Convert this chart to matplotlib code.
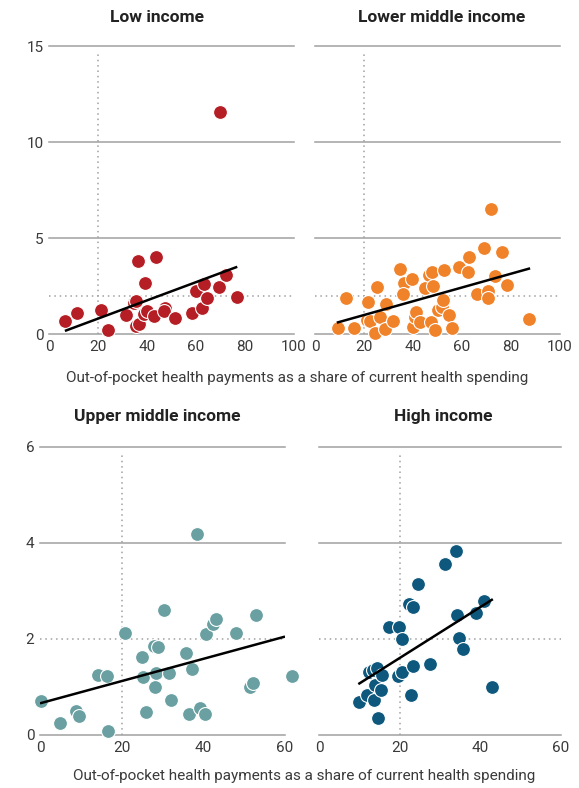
import matplotlib

matplotlib.use("Agg")
import matplotlib.pyplot as plt

plt.rcParams["font.family"] = ["Roboto", "DejaVu Sans"]

# x: out-of-pocket share of current health spending (%), y: outcome value
LOW_X = [6.5, 11.6, 21.1, 24.3, 31.6, 34.8, 35.7, 36.4, 43.6, 39.1, 35.7,
         36.8, 38.9, 40.2, 42.9, 47.4, 47.0, 51.5, 58.3, 60.0, 62.4, 63.4,
         64.5, 69.5, 72.3, 76.8, 69.9]
LOW_Y = [0.69, 1.08, 1.25, 0.21, 0.99, 1.63, 1.72, 3.82, 3.99, 2.64, 0.43,
         0.52, 1.04, 1.21, 0.94, 1.37, 1.20, 0.82, 1.11, 2.24, 1.34, 2.59,
         1.86, 2.47, 3.07, 1.94, 11.58]

LMID_X = [9.3, 12.5, 16.0, 21.8, 21.1, 22.5, 24.5, 25.4, 26.5, 28.6, 28.8,
          32.0, 34.7, 36.3, 36.0, 39.7, 40.1, 40.8, 41.1, 42.9, 44.9, 46.5,
          47.9, 48.3, 47.4, 49.0, 50.3, 52.0, 52.4, 52.7, 54.7, 55.8, 58.8,
          62.3, 62.9, 66.0, 69.1, 70.5, 70.7, 71.8, 73.5, 76.5, 78.2, 87.5]
LMID_Y = [0.30, 1.86, 0.33, 1.65, 0.73, 0.68, 0.03, 2.43, 0.90, 0.26, 1.55,
          0.68, 3.39, 2.64, 2.08, 2.85, 0.38, 0.90, 1.16, 0.64, 2.38, 3.07,
          3.22, 2.52, 0.64, 0.21, 1.25, 1.42, 1.77, 3.33, 0.99, 0.33, 3.51,
          3.21, 3.99, 2.10, 4.50, 2.26, 1.89, 6.51, 3.02, 4.29, 2.55, 0.76]

UMID_X = [0.2, 4.9, 8.8, 9.6, 14.3, 16.4, 16.6, 20.9, 25.1, 25.2, 25.9, 27.8,
          29.0, 28.2, 28.4, 30.4, 31.7, 32.1, 35.8, 36.4, 37.2, 39.3, 40.3,
          40.7, 42.4, 43.2, 47.9, 51.4, 52.2, 53.0, 61.8, 38.5]
UMID_Y = [0.71, 0.26, 0.49, 0.40, 1.25, 1.23, 0.09, 2.13, 1.63, 1.20, 0.47,
          1.85, 1.84, 0.99, 1.29, 2.60, 1.30, 0.73, 1.70, 0.43, 1.37, 0.57,
          0.43, 2.10, 2.31, 2.41, 2.12, 1.01, 1.09, 2.51, 1.23, 4.18]

HIGH_X = [9.9, 11.8, 12.5, 13.4, 14.5, 13.9, 13.7, 15.3, 15.5, 14.7, 17.4,
          19.9, 19.7, 20.5, 20.7, 22.2, 23.2, 22.7, 23.4, 24.5, 27.4, 31.3,
          33.9, 34.3, 34.8, 35.8, 39.0, 40.9, 42.9]
HIGH_Y = [0.69, 0.83, 1.31, 1.35, 1.39, 1.04, 0.73, 0.94, 1.25, 0.35, 2.24,
          2.24, 1.22, 1.32, 1.99, 2.73, 2.66, 0.83, 1.44, 3.15, 1.48, 3.56,
          3.84, 2.49, 2.03, 1.79, 2.55, 2.79, 0.99]

# fitted trend lines, end points
LOW_TREND = ([6.5, 77.0], [0.16, 3.50])
LMID_TREND = ([8.9, 87.8], [0.59, 3.42])
UMID_TREND = ([0.0, 60.0], [0.66, 2.05])
HIGH_TREND = ([9.75, 43.1], [1.06, 2.83])

TOP_XTICKS = [0, 20, 40, 60, 80, 100]
TOP_YTICKS = [0, 5, 10, 15]
BOT_XTICKS = [0, 20, 40, 60]
BOT_YTICKS = [0, 2, 4, 6]

RED = "#b41e24"
ORANGE = "#f0822a"
TEAL = "#6aa0a1"
NAVY = "#0f587d"
GRID = "#a0a0a0"
TEXT = "#3a3a3a"

W, H = 579, 788


def px_axes(fig, x0, x1, y_bottom, y_top):
    """Axes placed by pixel edges (y measured from the top)."""
    return fig.add_axes([x0 / W, 1 - y_bottom / H, (x1 - x0) / W,
                         (y_bottom - y_top) / H])


def draw_panel(ax, x, y, trend, color, xticks, yticks, show_y):
    xmax, ymax = xticks[-1], yticks[-1]
    ax.set_xlim(0, xmax)
    ax.set_ylim(0, ymax)
    for v in yticks:
        if v == 2:
            continue
        ax.axhline(v, color=GRID, lw=1.1, zorder=1, clip_on=False)
    ax.axhline(2, color=GRID, lw=1.1, ls=(0, (1, 2.5)), zorder=1)
    ax.plot([20, 20], [0, ymax * 0.98], color=GRID, lw=1.1,
            ls=(0, (1, 2.5)), zorder=1)
    ax.scatter(x, y, s=100, c=color, edgecolors="white", linewidths=0.8,
               zorder=3, clip_on=False)
    ax.plot(trend[0], trend[1], color="black", lw=1.8, zorder=4,
            solid_capstyle="butt")
    for s in ax.spines.values():
        s.set_visible(False)
    ax.set_xticks(xticks)
    ax.set_yticks(yticks)
    ax.tick_params(length=0, labelsize=11, colors=TEXT, pad=4)
    if not show_y:
        ax.set_yticklabels([])


fig = plt.figure(figsize=(W / 100, H / 100), dpi=100)

ax = px_axes(fig, 49, 293.5, 334, 46)
draw_panel(ax, LOW_X, LOW_Y, LOW_TREND, RED, TOP_XTICKS, TOP_YTICKS, True)
ax = px_axes(fig, 315, 560, 334, 46)
draw_panel(ax, LMID_X, LMID_Y, LMID_TREND, ORANGE, TOP_XTICKS, TOP_YTICKS,
           False)
ax = px_axes(fig, 40, 285, 735, 447)
draw_panel(ax, UMID_X, UMID_Y, UMID_TREND, TEAL, BOT_XTICKS, BOT_YTICKS, True)
ax = px_axes(fig, 319, 561, 735, 447)
draw_panel(ax, HIGH_X, HIGH_Y, HIGH_TREND, NAVY, BOT_XTICKS, BOT_YTICKS,
           False)

titles = [("Low income", 157, 17), ("Lower middle income", 442, 17),
          ("Upper middle income", 157, 417), ("High income", 443, 417)]
for label, cx, cy in titles:
    fig.text(cx / W, 1 - cy / H, label, ha="center", va="center",
             fontsize=12.5, fontweight="bold", color="#222222")

xlabel = "Out-of-pocket health payments as a share of current health spending"
fig.text(297 / W, 1 - 378 / H, xlabel, ha="center", va="center",
         fontsize=11, color=TEXT)
fig.text(304 / W, 1 - 776 / H, xlabel, ha="center", va="center",
         fontsize=11, color=TEXT)

fig.savefig("out.png", dpi=100)
